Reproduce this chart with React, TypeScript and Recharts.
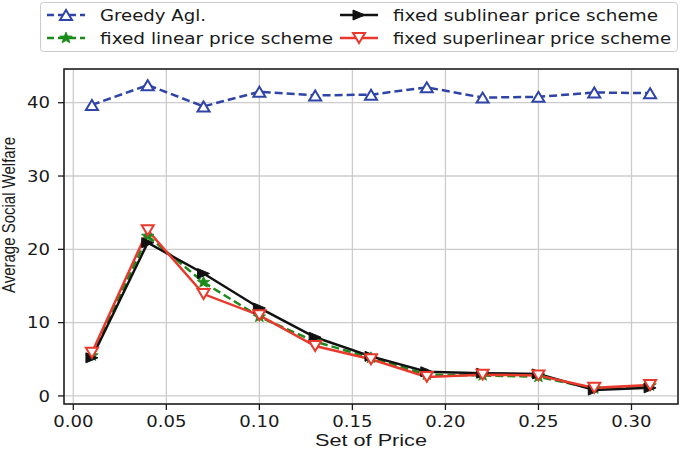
import React from 'react';
import { LineChart, Line, XAxis, YAxis, CartesianGrid, ReferenceArea } from 'recharts';

const prices = [0.01, 0.04, 0.07, 0.1, 0.13, 0.16, 0.19, 0.22, 0.25, 0.28, 0.31];
const greedy = [39.7, 42.4, 39.5, 41.5, 41.0, 41.1, 42.1, 40.7, 40.8, 41.4, 41.3];
const linear = [5.5, 21.8, 15.5, 10.8, 7.4, 5.2, 2.9, 2.8, 2.6, 1.0, 1.4];
const sublinear = [5.2, 20.9, 16.7, 12.0, 8.0, 5.4, 3.3, 3.1, 3.0, 0.8, 1.1];
const superlinear = [5.9, 22.6, 13.9, 11.0, 6.8, 5.0, 2.6, 2.9, 2.8, 1.1, 1.5];

const xTicks = [0, 0.05, 0.1, 0.15, 0.2, 0.25, 0.3];
const yTicks = [0, 10, 20, 30, 40];

const data = prices.map((p, i) => ({
  price: p,
  greedy: greedy[i],
  linear: linear[i],
  sublinear: sublinear[i],
  superlinear: superlinear[i],
}));

const BLUE = '#2f44a6';
const GREEN = '#1a8a1a';
const BLACK = '#111111';
const RED = '#e8392c';
const TEXT = '#1a1a1a';

// marker shapes
const triUp = (cx: number, cy: number, color: string) => (
  <polygon points={`${cx},${cy - 5} ${cx - 6},${cy + 5} ${cx + 6},${cy + 5}`} fill="#fff" stroke={color} strokeWidth={2} />
);
const triDown = (cx: number, cy: number, color: string) => (
  <polygon points={`${cx - 6},${cy - 5} ${cx + 6},${cy - 5} ${cx},${cy + 5}`} fill="#fff" stroke={color} strokeWidth={2} />
);
const triRight = (cx: number, cy: number, color: string) => (
  <polygon points={`${cx + 6},${cy} ${cx - 6},${cy - 5} ${cx - 6},${cy + 5}`} fill={color} stroke={color} strokeWidth={1} />
);
const star = (cx: number, cy: number, color: string) => {
  const pts: string[] = [];
  for (let k = 0; k < 10; k++) {
    const r = k % 2 === 0 ? 6 : 2.6;
    const a = -Math.PI / 2 + (k * Math.PI) / 5;
    pts.push(`${cx + r * Math.cos(a) * 1.1},${cy + r * Math.sin(a)}`);
  }
  return <polygon points={pts.join(' ')} fill={color} stroke={color} strokeWidth={0.8} />;
};

const dot = (shape: (cx: number, cy: number, c: string) => React.ReactElement, color: string) =>
  (props: any) => <g key={props.index}>{shape(props.cx, props.cy, color)}</g>;

const XTick = (props: any) => (
  <g transform={`translate(${props.x},${props.y}) scale(1.13,1)`}>
    <text x={0} y={0} dy="0.71em" textAnchor="middle" fontSize={16} fontFamily="DejaVu Sans" fill={TEXT}>
      {Number(props.payload.value).toFixed(2)}
    </text>
  </g>
);

const YTick = (props: any) => (
  <g transform={`translate(${props.x},${props.y}) scale(1.13,1)`}>
    <text x={0} y={0} dy="0.36em" textAnchor="end" fontSize={16} fontFamily="DejaVu Sans" fill={TEXT}>
      {props.payload.value}
    </text>
  </g>
);

const legendItems = [
  { label: 'Greedy Agl.', color: BLUE, dash: '7 4', shape: triUp, x: 47, y: 15, len: 106 },
  { label: 'fixed linear price scheme', color: GREEN, dash: '7 4', shape: star, x: 47, y: 38, len: 233 },
  { label: 'fixed sublinear price scheme', color: BLACK, dash: undefined, shape: triRight, x: 340, y: 15, len: 265 },
  { label: 'fixed superlinear price scheme', color: RED, dash: undefined, shape: triDown, x: 340, y: 38, len: 278 },
];

const LegendBox = () => (
  <svg width={685} height={60} style={{ position: 'absolute', left: 0, top: 0 }}>
    <rect x={40.5} y={2.5} width={637} height={49} rx={3} fill="#fff" stroke="#cccccc" strokeWidth={1} />
    {legendItems.map((it) => (
      <g key={it.label}>
        <line x1={it.x} x2={it.x + 38} y1={it.y} y2={it.y} stroke={it.color} strokeWidth={2.5} strokeDasharray={it.dash} />
        {it.shape(it.x + 19, it.y, it.color)}
        <text x={it.x + 53} y={it.y + 5.5} fontSize={15} fontFamily="DejaVu Sans" fill={TEXT} textLength={it.len} lengthAdjust="spacingAndGlyphs">
          {it.label}
        </text>
      </g>
    ))}
  </svg>
);

export default function App() {
  return (
    <div style={{ position: 'absolute', left: 0, top: 0, width: 685, height: 450, background: '#fff' }}>
      <LineChart width={685} height={450} data={data} margin={{ top: 69, right: 7, bottom: 0, left: 0 }}>
        <CartesianGrid stroke="#cccccc" strokeWidth={1.3} />
        <XAxis
          dataKey="price"
          type="number"
          domain={[-0.005, 0.325]}
          ticks={xTicks}
          height={46}
          axisLine={false}
          tickSize={6}
          tickMargin={6}
          tickLine={{ stroke: TEXT, strokeWidth: 1.3 }}
          tick={<XTick />}
          label={{
            content: () => (
              <text x={371} y={446} textAnchor="middle" fontSize={17} fontFamily="Liberation Sans" fill={TEXT} textLength={112} lengthAdjust="spacingAndGlyphs">
                Set of Price
              </text>
            ),
          }}
        />
        <YAxis
          type="number"
          domain={[-1.1, 44.6]}
          ticks={yTicks}
          width={64}
          axisLine={false}
          tickSize={6}
          tickMargin={8}
          tickLine={{ stroke: TEXT, strokeWidth: 1.3 }}
          tick={<YTick />}
          label={{
            content: () => (
              <text x={15} y={215} transform="rotate(-90 15 215)" textAnchor="middle" fontSize={18} fontFamily="Liberation Sans" fill={TEXT} textLength={156} lengthAdjust="spacingAndGlyphs">
                Average Social Welfare
              </text>
            ),
          }}
        />
        <ReferenceArea x1={-0.005} x2={0.325} y1={-1.1} y2={44.6} fill="none" stroke={TEXT} strokeWidth={1.5} ifOverflow="visible" />
        <Line dataKey="greedy" stroke={BLUE} strokeWidth={2.5} strokeDasharray="8 4" dot={dot(triUp, BLUE)} isAnimationActive={false} />
        <Line dataKey="linear" stroke={GREEN} strokeWidth={2.5} strokeDasharray="8 4" dot={dot(star, GREEN)} isAnimationActive={false} />
        <Line dataKey="sublinear" stroke={BLACK} strokeWidth={2.5} dot={dot(triRight, BLACK)} isAnimationActive={false} />
        <Line dataKey="superlinear" stroke={RED} strokeWidth={2.5} dot={dot(triDown, RED)} isAnimationActive={false} />
      </LineChart>
      <LegendBox />
    </div>
  );
}
